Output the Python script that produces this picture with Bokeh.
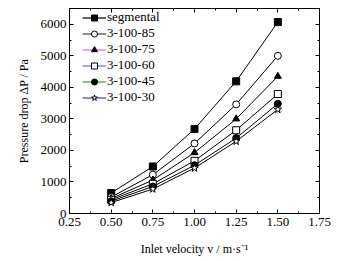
from bokeh.plotting import figure
from bokeh.models import LinearAxis, Legend, LegendItem, ColumnDataSource, FixedTicker, CustomJSTickFormatter
from bokeh.embed import file_html
from bokeh.resources import INLINE

velocity = [0.50, 0.75, 1.00, 1.25, 1.50]
segmental = [650, 1490, 2680, 4190, 6070]
s85 = [520, 1230, 2220, 3460, 5000]
s75 = [475, 1060, 1930, 3000, 4350]
s60 = [435, 940, 1670, 2640, 3790]
s45 = [390, 855, 1530, 2390, 3480]
s30 = [345, 775, 1440, 2290, 3300]
series_names = ["segmental", "3-100-85", "3-100-75", "3-100-60", "3-100-45", "3-100-30"]
x_ticks = [0.25, 0.50, 0.75, 1.00, 1.25, 1.50, 1.75]
y_ticks = [0, 1000, 2000, 3000, 4000, 5000, 6000]

series = [segmental, s85, s75, s60, s45, s30]
markers = ["square", "circle", "triangle", "square", "circle", "star"]
fills = ["black", "white", "black", "white", "black", "white"]
legend_colors = ["black", "#444444", "#dd66dd", "#6666ee", "#449944", "#444499"]

FONT = "Liberation Serif"

p = figure(width=345, height=261, output_backend="svg", toolbar_location=None,
           x_range=(0.25, 1.75), y_range=(0, 6500),
           min_border_left=69, min_border_right=26, min_border_top=8, min_border_bottom=48)
p.xgrid.visible = False
p.ygrid.visible = False
p.outline_line_color = "black"
p.outline_line_width = 1
p.background_fill_color = "white"
p.border_fill_color = "white"

def style_axis(ax):
    ax.axis_line_color = "black"
    ax.major_tick_in = 4
    ax.major_tick_out = 0
    ax.minor_tick_in = 2
    ax.minor_tick_out = 0
    ax.major_tick_line_color = "black"
    ax.minor_tick_line_color = "black"
    ax.major_label_text_font = FONT
    ax.major_label_text_font_size = "13px"
    ax.major_label_text_color = "black"
    ax.axis_label_text_font = FONT
    ax.axis_label_text_font_size = "12px"
    ax.axis_label_text_font_style = "normal"
    ax.axis_label_text_color = "black"

xt = FixedTicker(ticks=x_ticks, minor_ticks=[0.375, 0.625, 0.875, 1.125, 1.375, 1.625])
yt = FixedTicker(ticks=y_ticks, minor_ticks=[500, 1500, 2500, 3500, 4500, 5500, 6500])

p.xaxis.ticker = xt
p.yaxis.ticker = yt
p.xaxis.major_label_overrides = {t: f"{t:.2f}" for t in x_ticks}
style_axis(p.xaxis[0])
style_axis(p.yaxis[0])
p.xaxis.axis_label = "Inlet velocity v / m·s⁻¹"
p.yaxis.axis_label = "Pressure drop ΔP / Pa"
p.xaxis.major_label_standoff = 4
p.yaxis.major_label_standoff = 3
p.xaxis.axis_label_standoff = 13
p.yaxis.axis_label_standoff = 7

top = LinearAxis(ticker=xt, formatter=CustomJSTickFormatter(code="return ''"))
style_axis(top)
p.add_layout(top, "above")
right = LinearAxis(ticker=yt, formatter=CustomJSTickFormatter(code="return ''"))
style_axis(right)
p.add_layout(right, "right")

nan = float("nan")
items = []
for name, vals, m, f, lc in zip(series_names, series, markers, fills, legend_colors):
    src = ColumnDataSource(dict(x=velocity, y=vals))
    p.line("x", "y", source=src, line_color="black", line_width=1)
    p.scatter("x", "y", source=src, marker=m, size=7 if m != "star" else 8,
              fill_color=f, line_color="black", line_width=1)
    dummy = ColumnDataSource(dict(x=[nan], y=[nan]))
    lr = p.line("x", "y", source=dummy, line_color=lc, line_width=1.2)
    sr = p.scatter("x", "y", source=dummy, marker=m, size=5 if m != "star" else 7,
                   fill_color=f, line_color="black", line_width=1)
    items.append(LegendItem(label=name, renderers=[lr, sr]))

legend = Legend(items=items, location=(13, 108))
legend.border_line_color = None
legend.background_fill_alpha = 0
legend.label_text_font = FONT
legend.label_text_font_size = "13px"
legend.label_text_color = "black"
legend.label_height = 15
legend.glyph_height = 15
legend.glyph_width = 24
legend.spacing = 0
legend.padding = 0
legend.margin = 0
legend.label_standoff = 1
p.add_layout(legend, "center")

open("out.html", "w").write(file_html(p, INLINE))
